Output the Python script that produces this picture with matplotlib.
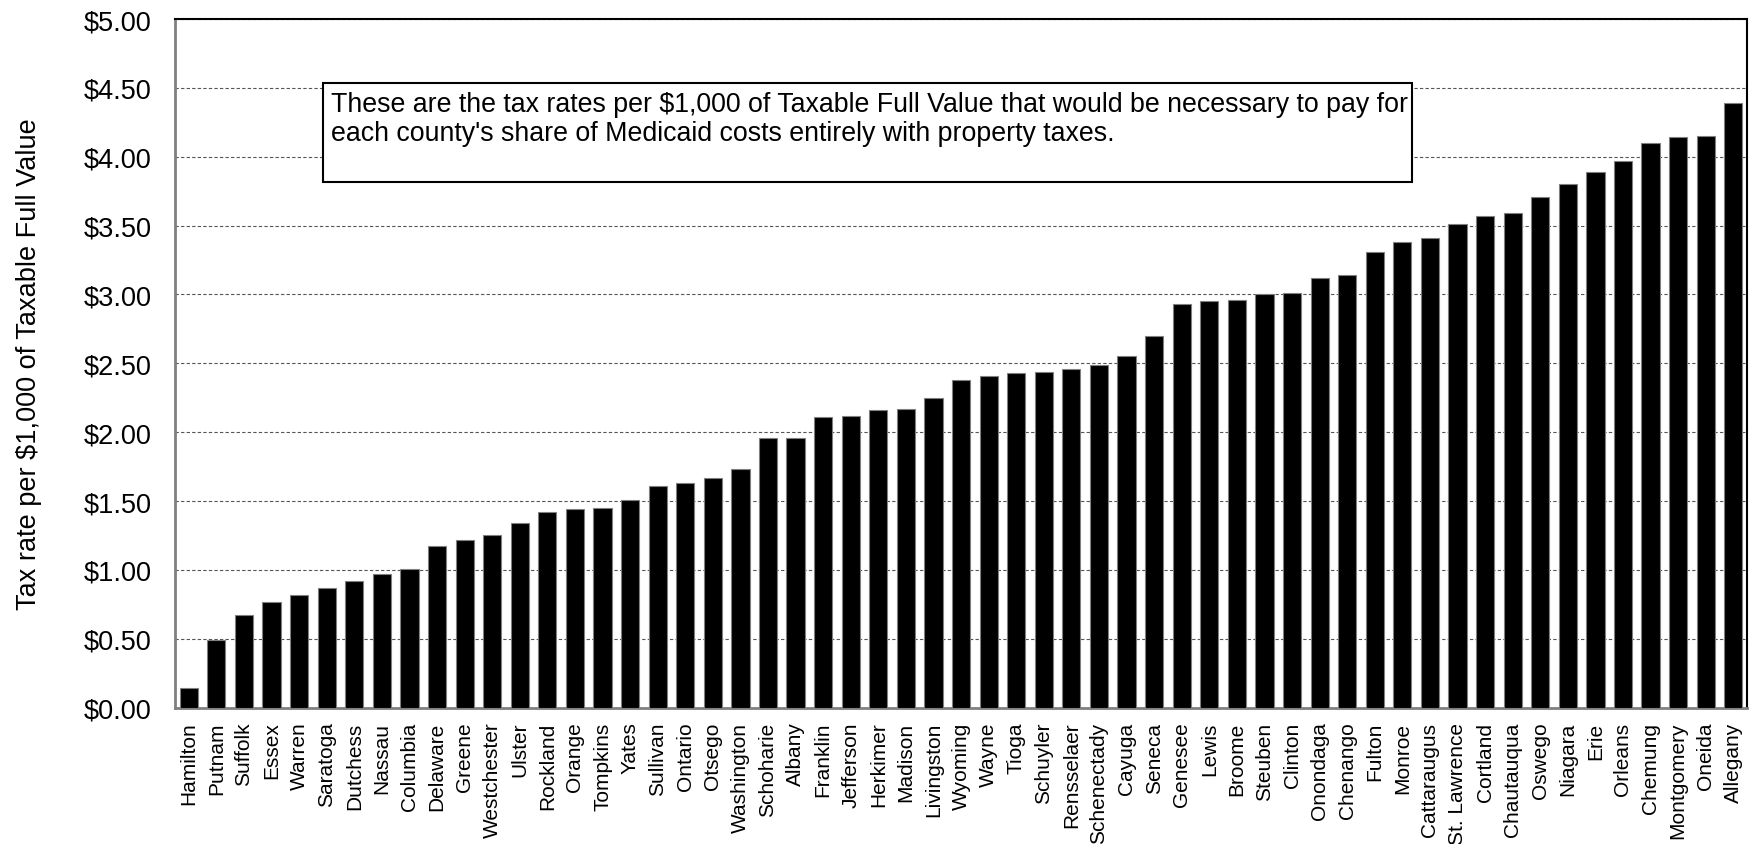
import matplotlib.pyplot as plt
from matplotlib.patches import Rectangle
from matplotlib.ticker import FuncFormatter, MultipleLocator

plt.rcParams['font.family'] = ['Liberation Sans', 'DejaVu Sans']

counties = ["Hamilton", "Putnam", "Suffolk", "Essex", "Warren", "Saratoga", "Dutchess",
            "Nassau", "Columbia", "Delaware", "Greene", "Westchester", "Ulster", "Rockland",
            "Orange", "Tompkins", "Yates", "Sullivan", "Ontario", "Otsego", "Washington",
            "Schoharie", "Albany", "Franklin", "Jefferson", "Herkimer", "Madison", "Livingston",
            "Wyoming", "Wayne", "Tioga", "Schuyler", "Rensselaer", "Schenectady", "Cayuga",
            "Seneca", "Genesee", "Lewis", "Broome", "Steuben", "Clinton", "Onondaga",
            "Chenango", "Fulton", "Monroe", "Cattaraugus", "St. Lawrence", "Cortland",
            "Chautauqua", "Oswego", "Niagara", "Erie", "Orleans", "Chemung", "Montgomery",
            "Oneida", "Allegany"]
rates = [0.14, 0.49, 0.67, 0.77, 0.82, 0.87, 0.92,
         0.97, 1.01, 1.17, 1.22, 1.25, 1.34, 1.42,
         1.44, 1.45, 1.51, 1.61, 1.63, 1.67, 1.73,
         1.96, 1.96, 2.11, 2.12, 2.16, 2.17, 2.25,
         2.38, 2.41, 2.43, 2.44, 2.46, 2.49, 2.55,
         2.70, 2.93, 2.95, 2.96, 3.00, 3.01, 3.12,
         3.14, 3.31, 3.38, 3.41, 3.51, 3.57,
         3.59, 3.71, 3.80, 3.89, 3.97, 4.10, 4.14,
         4.15, 4.39]

note = ("These are the tax rates per $1,000 of Taxable Full Value that would be necessary to pay for\n"
        "each county's share of Medicaid costs entirely with property taxes.")

fig = plt.figure(figsize=(17.52, 8.45), dpi=100)
ax = fig.add_axes([0.0999, 0.1614, 0.8973, 0.8149])

x = range(len(counties))
ax.bar(x, rates, width=0.66, color='black', edgecolor='#808080', linewidth=0.8, zorder=3)

ax.set_xlim(-0.5, len(counties) - 0.5)
ax.set_ylim(0, 5)
ax.yaxis.set_major_locator(MultipleLocator(0.5))
ax.yaxis.set_major_formatter(FuncFormatter(lambda v, p: f"${v:.2f}"))
ax.grid(axis='y', linestyle=(0, (3, 2)), color='#555555', linewidth=0.8, zorder=0)

ax.set_xticks(list(x))
ax.set_xticklabels(counties, rotation=90, fontsize=15)
ax.tick_params(axis='x', length=0, pad=10)
ax.tick_params(axis='y', length=0, pad=17, labelsize=19.5)

for side in ['left', 'bottom']:
    ax.spines[side].set_color('#808080')
    ax.spines[side].set_linewidth(2)
for side in ['top', 'right']:
    ax.spines[side].set_color('black')
    ax.spines[side].set_linewidth(1.5)

ax.set_ylabel("Tax rate per $1,000 of Taxable Full Value", fontsize=19.5, labelpad=30)

ax.add_patch(Rectangle((0.094, 0.763), 0.693, 0.144, transform=ax.transAxes,
                       facecolor='white', edgecolor='black', linewidth=1.5, zorder=4))
ax.text(0.099, 0.895, note, transform=ax.transAxes, fontsize=19.3, va='top', ha='left',
        linespacing=1.15, zorder=5)

fig.savefig("out.png", dpi=100)
